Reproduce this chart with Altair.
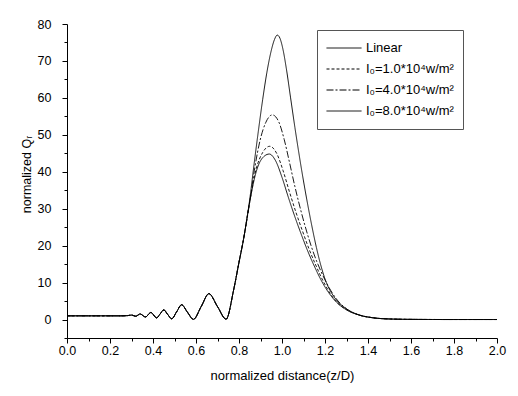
import altair as alt
import pandas as pd

# ---- data ----
series_names = ["Linear", "I₀=1.0*10⁴w/m²", "I₀=4.0*10⁴w/m²", "I₀=8.0*10⁴w/m²"]
series_dash = [[1, 0], [3, 2], [7, 2, 2, 2], [1, 0]]

# shared part (all curves coincide before the main peak)
x_left = [0.00, 0.10, 0.20, 0.25, 0.28, 0.30, 0.32, 0.34, 0.365, 0.39, 0.417, 0.433, 0.45,
          0.468, 0.487, 0.51, 0.533, 0.56, 0.588, 0.624, 0.66, 0.70, 0.74, 0.775, 0.80, 0.82]
y_left = [1.0, 1.0, 1.0, 1.0, 1.05, 1.2, 0.9, 1.5, 0.7, 1.9, 0.45, 1.5, 2.6,
          1.4, 0.2, 2.1, 4.0, 2.0, 0.05, 3.5, 7.0, 3.5, 0.1, 8.0, 15.5, 21.4]

# main peak, per curve
x_linear = [0.851, 0.88, 0.91, 0.941, 0.97, 1.0, 1.03, 1.06, 1.09, 1.12, 1.15, 1.19, 1.25, 1.30]
y_linear = [32.2, 40.0, 43.8, 44.8, 43.0, 38.5, 33.0, 27.8, 23.0, 18.5, 14.5, 9.8, 4.9, 2.6]

x_i1 = [0.851, 0.88, 0.91, 0.943, 0.975, 1.005, 1.035, 1.065, 1.095, 1.125, 1.155, 1.195, 1.25, 1.30]
y_i1 = [32.3, 40.8, 45.2, 46.9, 45.0, 40.3, 34.5, 29.0, 24.0, 19.2, 15.0, 10.0, 5.0, 2.7]

x_i4 = [0.851, 0.874, 0.898, 0.925, 0.955, 0.985, 1.01, 1.035, 1.06, 1.09, 1.12, 1.15,
        1.18, 1.21, 1.25, 1.30]
y_i4 = [32.2, 41.3, 48.5, 53.4, 55.4, 53.5, 48.8, 42.5, 36.0, 29.0, 22.8, 17.5,
        13.2, 9.6, 5.8, 2.9]

x_i8 = [0.851, 0.87, 0.89, 0.91, 0.93, 0.95, 0.965, 0.978, 0.99, 1.005, 1.02, 1.04, 1.06,
        1.08, 1.10, 1.12, 1.14, 1.16, 1.18, 1.20, 1.25, 1.30]
y_i8 = [33.0, 42.0, 51.0, 59.5, 67.0, 72.8, 75.8, 77.0, 76.2, 73.0, 68.0, 60.0, 52.0,
        44.5, 37.5, 31.0, 25.0, 19.5, 14.8, 11.0, 5.5, 2.9]

# shared tail
x_tail = [1.36, 1.42, 1.5, 1.6, 1.8, 2.0]
y_tail = [1.2, 0.5, 0.15, 0.04, 0.0, 0.0]

x_ticks = [i / 10 for i in range(21)]
y_ticks = list(range(-5, 81, 5))

peaks = [(x_linear, y_linear), (x_i1, y_i1), (x_i4, y_i4), (x_i8, y_i8)]
rows = []
for name, (xp, yp) in zip(series_names, peaks):
    xs = x_left + xp + x_tail
    ys = y_left + yp + y_tail
    for i, (a, b) in enumerate(zip(xs, ys)):
        rows.append({"x": a, "y": b, "series": name, "order": i})
df = pd.DataFrame(rows)

FONT = "Liberation Sans"

chart = alt.Chart(df).mark_line(
    interpolate="monotone", color="black", strokeWidth=0.9
).encode(
    x=alt.X("x:Q",
            scale=alt.Scale(domain=[0, 2], nice=False, zero=False),
            axis=alt.Axis(
                values=x_ticks, format=".1f",
                labelExpr="round(datum.value*10) % 2 == 0 ? datum.label : ''",
                tickSize={"condition": {"test": "round(datum.value*10) % 2 == 0", "value": 5}, "value": 3},
                labelFlush=False, labelOverlap=False, grid=False,
                title="normalized distance(z/D)",
                labelPadding=1, titlePadding=13,
            )),
    y=alt.Y("y:Q",
            scale=alt.Scale(domain=[-5, 80], nice=False, zero=False),
            axis=alt.Axis(
                values=y_ticks, format="d",
                labelExpr="(datum.value % 10 == 0 && datum.value >= 0) ? datum.label : ''",
                tickSize={"condition": {"test": "datum.value % 10 == 0", "value": 5}, "value": 3},
                labelOverlap=False, grid=False,
                title="normalized Qᵣ", titleFontSize=12.5,
                labelPadding=11, titlePadding=4, titleY=150,
            )),
    strokeDash=alt.StrokeDash(
        "series:N",
        scale=alt.Scale(domain=series_names, range=series_dash),
        legend=alt.Legend(
            title=None, orient="none", legendX=250, legendY=6,
            symbolType="stroke", symbolSize=1225, symbolStrokeColor="black",
            symbolStrokeWidth=1, labelFontSize=13, labelFont=FONT,
            labelColor="black", strokeColor="#555", fillColor="white",
            padding=9, rowPadding=3, clipHeight=18, labelOffset=4,
        )),
    detail="series:N",
    order="order:Q",
).properties(
    width=430, height=314,
    padding={"left": 59, "top": 16, "right": 10, "bottom": 48},
    autosize="none",
).configure_view(
    stroke=None
).configure_axis(
    labelFont=FONT, titleFont=FONT, labelFontSize=12.5, titleFontSize=13,
    titleFontWeight="normal", labelColor="black", titleColor="black",
    domainColor="black", tickColor="black", domainWidth=1, tickWidth=1,
)

chart.save("out.html", embed_options={"renderer": "svg", "actions": False})
